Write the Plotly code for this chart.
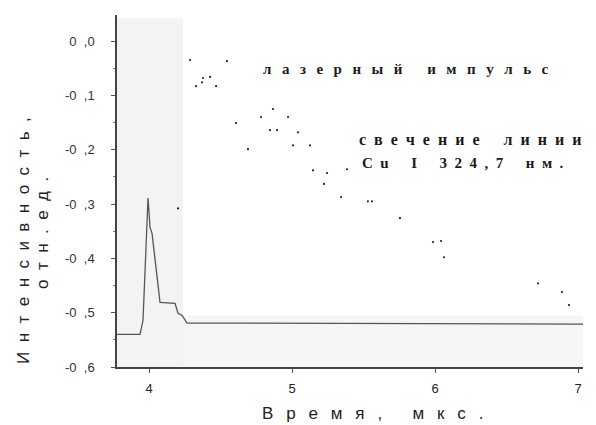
import plotly.graph_objects as go

# ---- data ----
signal_t = [3.776, 3.937, 3.958, 3.993, 4.007, 4.021, 4.077, 4.182, 4.203, 4.231, 4.266, 7.035]
signal_v = [-0.540, -0.540, -0.514, -0.289, -0.343, -0.354, -0.481, -0.483, -0.501, -0.505, -0.519, -0.521]

laser_t = [4.287, 4.545, 4.378, 4.427, 4.371, 4.329, 4.469, 4.867, 4.783, 4.972, 4.608, 4.846,
           4.895, 5.042, 5.007, 5.126, 4.692, 5.147, 5.245, 5.385, 5.224, 5.343, 5.531, 5.559,
           5.755, 5.986, 6.042, 6.063, 6.720, 6.888, 6.937, 4.203]
laser_v = [-0.035, -0.037, -0.068, -0.066, -0.076, -0.083, -0.083, -0.125, -0.140, -0.140, -0.151, -0.164,
           -0.164, -0.168, -0.192, -0.192, -0.199, -0.238, -0.243, -0.236, -0.263, -0.287, -0.295, -0.295,
           -0.326, -0.370, -0.368, -0.398, -0.446, -0.462, -0.486, -0.308]

y_ticks = [0.0, -0.1, -0.2, -0.3, -0.4, -0.5, -0.6]
y_tick_labels = ["0 ,0", "-0 ,1", "-0 ,2", "-0 ,3", "-0 ,4", "-0 ,5", "-0 ,6"]
x_ticks = [4, 5, 6, 7]

x_range = [3.776, 7.035]
y_range = [-0.6, 0.048]

NB = "\u00a0"
TH = "\u2009"


def spaced(s, sep=NB, word=NB * 2):
    parts = []
    for ch in s:
        parts.append(word if ch == " " else ch)
    return sep.join(parts)


W, H = 596, 425
L, R, T, B = 117, 13, 15, 58
PW, PH = W - L - R, H - T - B


def px(x):
    return (x - L) / PW


def py(y):
    return (H - B - y) / PH


fig = go.Figure()

fig.add_trace(go.Scatter(x=signal_t, y=signal_v, mode="lines",
                         line=dict(color="#555555", width=1.3), hoverinfo="skip"))
fig.add_trace(go.Scatter(x=laser_t, y=laser_v, mode="markers",
                         marker=dict(color="#222222", size=2.2), hoverinfo="skip"))

fig.add_shape(type="rect", xref="x", yref="y", x0=x_range[0], x1=4.238, y0=-0.6, y1=0.042,
              fillcolor="#f3f3f3", line=dict(width=0), layer="below")
fig.add_shape(type="rect", xref="x", yref="y", x0=4.238, x1=x_range[1], y0=-0.6, y1=-0.505,
              fillcolor="#f6f6f6", line=dict(width=0), layer="below")

serif = dict(family="Liberation Serif", size=15, color="#1a1a1a", weight="bold")
serif16 = dict(family="Liberation Serif", size=16, color="#1a1a1a", weight="bold")
fig.add_annotation(xref="paper", yref="paper", x=px(261), y=py(69), xanchor="left", yanchor="middle",
                   text=spaced("лазерный импульс", NB * 2 + TH, NB), showarrow=False, font=serif)
fig.add_annotation(xref="paper", yref="paper", x=px(357), y=py(139), xanchor="left", yanchor="middle",
                   text=spaced("свечение линии", NB * 2, NB * 2), showarrow=False, font=serif16)
fig.add_annotation(xref="paper", yref="paper", x=px(360), y=py(163), xanchor="left", yanchor="middle",
                   text=spaced("Cu I 324,7 нм.", NB * 2, NB * 2), showarrow=False, font=serif)

sans_title = dict(family="Liberation Sans", size=17, color="#222222")
fig.add_annotation(xref="paper", yref="paper", x=px(23), y=py(241), xanchor="center", yanchor="middle",
                   text=spaced("Интенсивность,", NB * 2), textangle=-90, showarrow=False, font=sans_title)
fig.add_annotation(xref="paper", yref="paper", x=px(42), y=py(233), xanchor="center", yanchor="middle",
                   text=spaced("отн.ед.", NB * 2), textangle=-90, showarrow=False, font=sans_title)
fig.add_annotation(xref="paper", yref="paper", x=px(372), y=py(413), xanchor="center", yanchor="middle",
                   text=spaced("Время, мкс.", NB * 2 + TH, NB), showarrow=False, font=sans_title)

fig.update_layout(
    width=W, height=H,
    margin=dict(l=L, r=R, t=T, b=B),
    paper_bgcolor="white", plot_bgcolor="white",
    showlegend=False,
    xaxis=dict(range=x_range, tickvals=x_ticks, ticks="outside", ticklen=4, tickcolor="#555",
               showgrid=False, zeroline=False, showline=True, linecolor="#444", linewidth=1.5,
               tickfont=dict(family="Liberation Sans", size=13, color="#222"), ticklabelstandoff=5),
    yaxis=dict(range=y_range, tickvals=y_ticks, ticktext=[t.replace(" ", NB * 2) for t in y_tick_labels],
               ticks="outside", ticklen=4, tickcolor="#555",
               minor=dict(ticks="outside", ticklen=2, dtick=0.05, tickcolor="#777"),
               showgrid=False, zeroline=False, showline=True, linecolor="#444", linewidth=1.5,
               tickfont=dict(family="Liberation Sans", size=13, color="#333"), ticklabelstandoff=14),
)

fig.write_html("out.html", config={"displayModeBar": False},
               post_script="document.body.style.margin='0';")
